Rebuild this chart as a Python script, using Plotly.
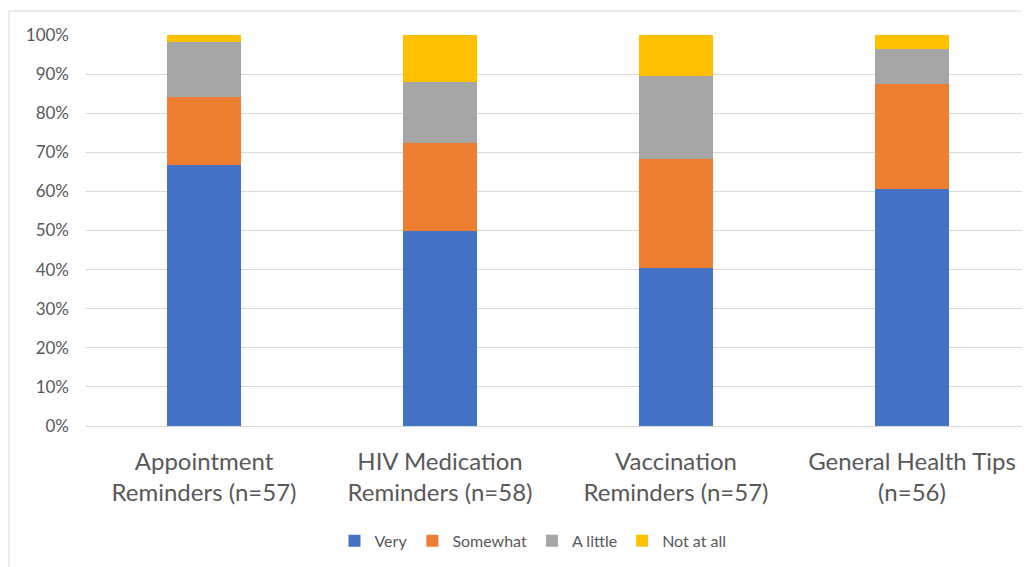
import plotly.graph_objects as go

categories = ["Appointment<br>Reminders (n=57)", "HIV Medication<br>Reminders (n=58)",
              "Vaccination<br>Reminders (n=57)", "General Health Tips<br>(n=56)"]
very = [66.7, 50.0, 40.4, 60.7]
somewhat = [17.5, 22.4, 28.0, 26.8]
a_little = [14.0, 15.5, 21.1, 8.9]
not_at_all = [1.8, 12.1, 10.5, 3.6]

series = [("Very", very, "#4472C4"), ("Somewhat", somewhat, "#ED7D31"),
          ("A little", a_little, "#A5A5A5"), ("Not at all", not_at_all, "#FFC000")]

fig = go.Figure()
for name, vals, col in series:
    fig.add_trace(go.Bar(x=categories, y=vals, name=name, marker_color=col,
                         marker_line_width=0, width=0.314))

font = "Lato, 'Open Sans', sans-serif"
fig.update_layout(
    barmode="stack",
    width=1022, height=559,
    margin=dict(l=78, r=0, t=27, b=141, autoexpand=False),
    paper_bgcolor="white", plot_bgcolor="white",
    font=dict(family=font, color="#595959"),
    showlegend=True,
    legend=dict(orientation="h", x=0.4735, xanchor="center", y=-0.294, yanchor="middle",
                font=dict(size=16, color="#595959"), traceorder="normal",
                itemwidth=30, tracegroupgap=0),
    xaxis=dict(showgrid=False, showline=False, ticks="", tickfont=dict(size=24, color="#595959"),
               range=[-0.5, 3.5], ticklabelstandoff=19),
    yaxis=dict(range=[0, 100], tickvals=list(range(0, 101, 10)),
               ticktext=[f"{v}%" for v in range(0, 101, 10)],
               showgrid=True, gridcolor="#d9d9d9", gridwidth=1, zeroline=True,
               zerolinecolor="#d9d9d9", zerolinewidth=1, showline=False,
               tickfont=dict(size=17, color="#595959"), ticklabelstandoff=16),
    shapes=[
        dict(type="line", xref="paper", yref="paper", x0=-0.0816, x1=1.05, y0=1.0614, y1=1.0614,
             line=dict(color="#d9d9d9", width=1)),
        dict(type="line", xref="paper", yref="paper", x0=-0.0816, x1=-0.0816, y0=1.0614, y1=-0.5,
             line=dict(color="#d9d9d9", width=1)),
    ],
)
fig.write_html("out.html")
